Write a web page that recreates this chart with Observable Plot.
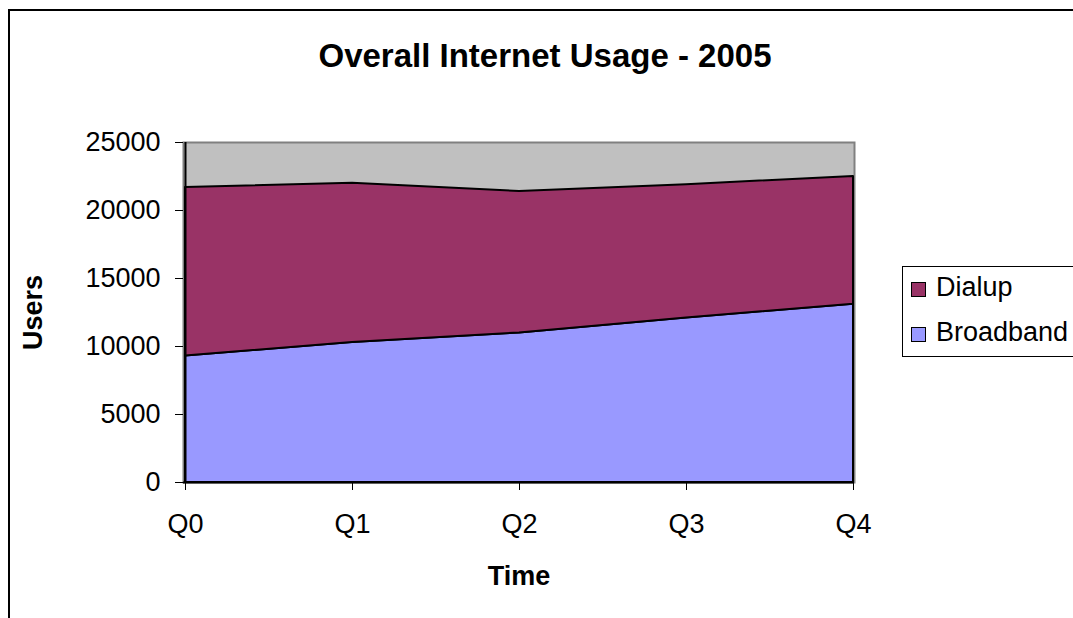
<!DOCTYPE html>
<html>
<head>
<meta charset="utf-8">
<script src="https://cdn.jsdelivr.net/npm/d3@7"></script>
<script src="https://cdn.jsdelivr.net/npm/@observablehq/plot@0.6"></script>
<style>
  body { margin: 0; background: #fff; font-family: "Liberation Sans", Arial, sans-serif; }
  #chart { position: relative; width: 1073px; height: 618px; overflow: hidden; background: #fff; }
  #chart svg { position: absolute; left: 0; top: 0; }
  #border { position: absolute; left: 8px; top: 9px; width: 1200px; height: 800px; border: 2px solid #000; }
  #title { position: absolute; left: 0; top: 39px; width: 1090px; text-align: center;
           font-weight: bold; font-size: 33px; line-height: 33px; color: #000; }
  #legend { position: absolute; left: 902px; top: 266px; width: 200px; height: 89px;
            border: 1px solid #000; background: #fff; }
  .item { position: absolute; left: 33px; font-size: 27px; line-height: 27px; color: #000; white-space: nowrap; }
  .swatch { position: absolute; left: -25px; top: 8px; width: 13px; height: 13px; border: 1px solid #000; }
  g[aria-label="y-axis label"] text, g[aria-label="x-axis label"] text { font-weight: bold; }
</style>
</head>
<body>
<div id="chart">
  <div id="border"></div>
  <div id="title">Overall Internet Usage - 2005</div>
</div>
<script>
// Quarterly user counts, 2005
const quarters = ["Q0", "Q1", "Q2", "Q3", "Q4"];
const broadband = [9300, 10300, 11000, 12100, 13100];
const dialup = [12400, 11700, 10400, 9800, 9400];

// Series stacked bottom-up; legend lists them top-down
const seriesNames = ["Broadband", "Dialup"];
const legendOrder = ["Dialup", "Broadband"];
const seriesColors = ["#9999FF", "#993366"];
const yTicks = [0, 5000, 10000, 15000, 20000, 25000];

const seriesValues = {Broadband: broadband, Dialup: dialup};
const rows = seriesNames.flatMap(s =>
  quarters.map((q, i) => ({quarter: q, series: s, users: seriesValues[s][i]}))
);

const plot = Plot.plot({
  width: 1073,
  height: 618,
  marginLeft: 183,
  marginRight: 219,
  marginTop: 142,
  marginBottom: 136,
  style: {
    fontFamily: "'Liberation Sans', Arial, sans-serif",
    fontSize: "27px",
    color: "#000",
    background: "transparent",
    overflow: "visible"
  },
  x: {type: "point", domain: quarters, padding: 0},
  y: {domain: [0, 25000]},
  color: {domain: seriesNames, range: seriesColors},
  marks: [
    Plot.frame({fill: "#C0C0C0", stroke: "#808080", strokeWidth: 2}),
    Plot.areaY(rows, {
      x: "quarter", y: "users", z: "series", fill: "series",
      stroke: "#000", strokeWidth: 2, strokeLinejoin: "round"
    }),
    Plot.ruleX([quarters[0]], {y1: 0, y2: 25000, stroke: "#000", strokeWidth: 2}),
    Plot.ruleY([0], {stroke: "#000", strokeWidth: 2}),
    Plot.axisY({
      ticks: yTicks, tickSize: 8, tickPadding: 15, tickFormat: d => String(d),
      label: "Users", labelAnchor: "center", labelOffset: 161, labelArrow: "none"
    }),
    Plot.axisX({
      tickSize: 8, tickPadding: 23,
      label: "Time", labelAnchor: "center", labelOffset: 102, labelArrow: "none"
    })
  ]
});

const chart = document.getElementById("chart");
chart.insertBefore(plot, chart.firstChild);

// Legend
const legend = document.createElement("div");
legend.id = "legend";
legendOrder.forEach((s, i) => {
  const item = document.createElement("div");
  item.className = "item";
  item.style.top = (7 + i * 45) + "px";
  const sw = document.createElement("span");
  sw.className = "swatch";
  sw.style.background = seriesColors[seriesNames.indexOf(s)];
  item.appendChild(sw);
  item.appendChild(document.createTextNode(s));
  legend.appendChild(item);
});
chart.appendChild(legend);
</script>
</body>
</html>
